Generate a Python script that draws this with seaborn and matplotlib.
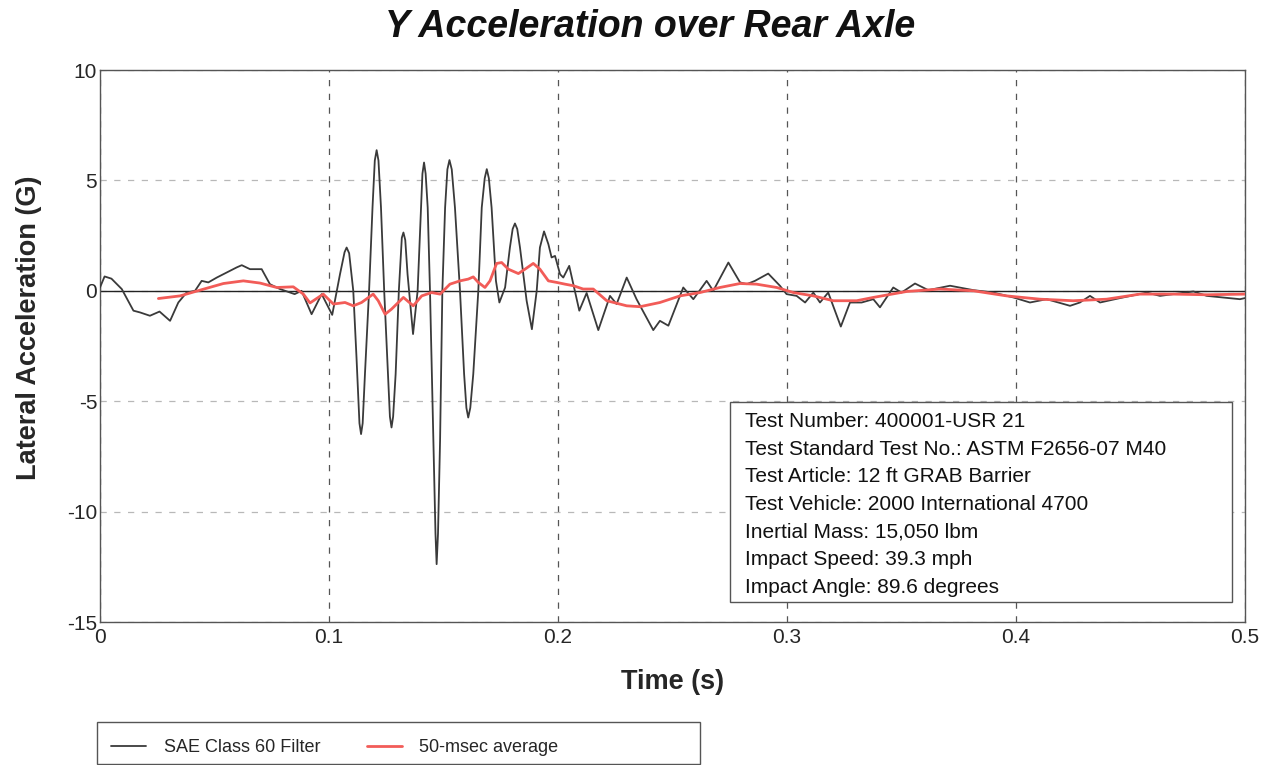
import numpy as np
import pandas as pd
import seaborn as sns
import matplotlib.pyplot as plt
from matplotlib.patches import Rectangle
from matplotlib.ticker import MultipleLocator

# SAE Class 60 filtered trace
filt_time = [0.000, 0.002, 0.005, 0.0095, 0.0146, 0.0175, 0.0218, 0.026, 0.0306, 0.0342,
             0.0378, 0.0415, 0.0444, 0.0473, 0.051, 0.0553, 0.0597, 0.0619, 0.0655, 0.0706,
             0.0742, 0.0786, 0.083, 0.085, 0.088, 0.0924, 0.0968, 0.1014, 0.1048, 0.1068,
             0.1077, 0.1088, 0.1106, 0.112, 0.1133, 0.114, 0.1147, 0.1157, 0.1175, 0.119,
             0.1200, 0.1208, 0.1216, 0.1227, 0.1241, 0.1259, 0.1266, 0.1273, 0.128, 0.1291,
             0.1305, 0.1318, 0.1325, 0.1333, 0.1343, 0.1367, 0.1387, 0.1402, 0.1408, 0.1415,
             0.1422, 0.1431, 0.1441, 0.1456, 0.1465, 0.147, 0.1476, 0.1485, 0.1495, 0.1507,
             0.1517, 0.1526, 0.1536, 0.155, 0.1572, 0.159, 0.1600, 0.1608, 0.1617, 0.163,
             0.1652, 0.1667, 0.1680, 0.1689, 0.1698, 0.171, 0.1729, 0.1744, 0.1769, 0.179,
             0.1802, 0.1812, 0.1822, 0.1834, 0.1863, 0.1886, 0.1907, 0.1921, 0.1939, 0.1958,
             0.1972, 0.1987, 0.2009, 0.2023, 0.2049, 0.2093, 0.2125, 0.2176, 0.2227, 0.2256,
             0.23, 0.2343, 0.2416, 0.2445, 0.2482, 0.2547, 0.2591, 0.2649, 0.2678, 0.2744,
             0.2795, 0.2824, 0.286, 0.2918, 0.2969, 0.2998, 0.3042, 0.3079, 0.3115, 0.3144,
             0.318, 0.3235, 0.3275, 0.3326, 0.3377, 0.3406, 0.3464, 0.35, 0.3559, 0.3617,
             0.3712, 0.3814, 0.3901, 0.3988, 0.4061, 0.4134, 0.4236, 0.4279, 0.4323, 0.4367,
             0.4454, 0.4571, 0.4629, 0.4775, 0.4833, 0.4978, 0.500]
filt_accel = [0.15, 0.65, 0.55, 0.08, -0.9, -0.98, -1.13, -0.94, -1.36, -0.53,
              -0.08, 0.0, 0.45, 0.38, 0.6, 0.83, 1.06, 1.16, 0.98, 0.98,
              0.3, 0.08, -0.08, -0.15, 0.0, -1.06, -0.15, -1.09, 0.75, 1.75,
              1.96, 1.7, 0.0, -3.0, -6.0, -6.49, -6.0, -3.77, 0.0, 3.77,
              5.9, 6.37, 5.9, 3.77, 0.0, -4.08, -5.7, -6.19, -5.7, -3.77,
              0.0, 2.4, 2.64, 2.3, 0.75, -1.96, 0.0, 3.77, 5.3, 5.81,
              5.3, 3.77, 0.0, -6.79, -11.0, -12.38, -11.0, -6.79, 0.0, 3.77,
              5.5, 5.92, 5.5, 3.77, 0.0, -3.77, -5.3, -5.74, -5.3, -3.77,
              0.0, 3.77, 5.1, 5.51, 5.1, 3.77, 0.45, -0.53, 0.15, 1.96,
              2.8, 3.05, 2.8, 1.96, -0.45, -1.74, 0.0, 1.96, 2.69, 2.11,
              1.51, 1.58, 0.75, 0.6, 1.13, -0.9, -0.1, -1.78, -0.23, -0.6,
              0.6, -0.38, -1.78, -1.36, -1.58, 0.15, -0.38, 0.45, 0.0, 1.28,
              0.38, 0.3, 0.45, 0.78, 0.23, -0.15, -0.23, -0.53, -0.08, -0.53,
              -0.08, -1.62, -0.53, -0.53, -0.38, -0.75, 0.15, -0.08, 0.33, 0.03,
              0.23, 0.03, -0.08, -0.3, -0.53, -0.38, -0.68, -0.53, -0.23, -0.53,
              -0.33, -0.08, -0.23, -0.03, -0.23, -0.38, -0.33]

# 50-msec moving average
avg_time = [0.0255, 0.035, 0.0437, 0.0539, 0.0626, 0.0699, 0.0772, 0.0844, 0.0888, 0.0917,
            0.0975, 0.1019, 0.107, 0.1106, 0.1142, 0.1193, 0.1215, 0.1245, 0.1273, 0.1325,
            0.1368, 0.1405, 0.1448, 0.1485, 0.1528, 0.1572, 0.1608, 0.163, 0.1652, 0.1681,
            0.1703, 0.1732, 0.1754, 0.1783, 0.1827, 0.1856, 0.1892, 0.1921, 0.1958, 0.1994,
            0.2031, 0.2067, 0.211, 0.2154, 0.2213, 0.23, 0.2358, 0.2445, 0.2533, 0.262,
            0.2707, 0.2795, 0.2867, 0.2955, 0.3028, 0.3115, 0.3202, 0.3304, 0.3377, 0.3523,
            0.3668, 0.3814, 0.3959, 0.4105, 0.425, 0.4396, 0.4541, 0.4687, 0.4833, 0.500]
avg_accel = [-0.35, -0.23, 0.03, 0.33, 0.45, 0.35, 0.15, 0.18, -0.15, -0.55,
             -0.15, -0.6, -0.53, -0.68, -0.53, -0.15, -0.45, -1.06, -0.83, -0.3,
             -0.68, -0.23, -0.08, -0.15, 0.3, 0.45, 0.53, 0.63, 0.38, 0.15,
             0.45, 1.24, 1.28, 0.98, 0.78, 0.98, 1.24, 0.98, 0.45, 0.38,
             0.3, 0.23, 0.08, 0.08, -0.45, -0.68, -0.72, -0.53, -0.23, -0.08,
             0.15, 0.33, 0.3, 0.15, -0.08, -0.23, -0.45, -0.45, -0.3, -0.03,
             0.08, 0.0, -0.23, -0.38, -0.45, -0.38, -0.15, -0.15, -0.18, -0.15]

x_ticks = [0.0, 0.1, 0.2, 0.3, 0.4, 0.5]
x_tick_labels = ['0', '0.1', '0.2', '0.3', '0.4', '0.5']
y_ticks = [10, 5, 0, -5, -10, -15]

info_lines = [
    "Test Number: 400001-USR 21",
    "Test Standard Test No.: ASTM F2656-07 M40",
    "Test Article: 12 ft GRAB Barrier",
    "Test Vehicle: 2000 International 4700",
    "Inertial Mass: 15,050 lbm",
    "Impact Speed: 39.3 mph",
    "Impact Angle: 89.6 degrees",
]

sns.set_theme(style='white')
plt.rcParams['font.family'] = ['Liberation Sans', 'DejaVu Sans']
plt.rcParams['axes.unicode_minus'] = False

filt_df = pd.DataFrame({'time': filt_time, 'accel': filt_accel})
avg_df = pd.DataFrame({'time': avg_time, 'accel': avg_accel})

fig = plt.figure(figsize=(12.75, 7.65), dpi=100)
ax = fig.add_axes([100 / 1275, 1 - 622 / 765, 1145 / 1275, 552 / 765])

ax.axhline(0, color='#222222', lw=1.0, zorder=1)
sns.lineplot(data=filt_df, x='time', y='accel', ax=ax, color='#3a3a3a', lw=1.3,
             sort=False, label='SAE Class 60 Filter', zorder=3)
sns.lineplot(data=avg_df, x='time', y='accel', ax=ax, color='#f25c58', lw=2.0,
             sort=False, label='50-msec average', zorder=4)

ax.set_xlim(0, 0.5)
ax.set_ylim(-15, 10)
ax.set_xticks(x_ticks)
ax.set_xticklabels(x_tick_labels)
ax.set_yticks(y_ticks)
ax.xaxis.set_minor_locator(MultipleLocator(0.02))
ax.yaxis.set_minor_locator(MultipleLocator(1))
ax.tick_params(which='major', direction='in', length=5, width=0.8, color='#444444',
               labelsize=15, pad=2)
ax.tick_params(which='minor', direction='in', length=3, width=0.6, color='#666666')
ax.tick_params(axis='x', which='major', pad=4)

ax.xaxis.grid(True, which='major', ls=(0, (5, 6)), color='#555555', lw=0.9)
ax.yaxis.grid(True, which='major', ls=(0, (5, 6)), color='#b8b8b8', lw=0.9)
for sp in ax.spines.values():
    sp.set_color('#555555')
    sp.set_linewidth(1.0)

ax.set_xlabel('Time (s)', fontsize=19.5, fontweight='bold', labelpad=16)
ax.set_ylabel('Lateral Acceleration (G)', fontsize=19.5, fontweight='bold')
ax.yaxis.set_label_coords(-0.0505, 0.533)
fig.text(650 / 1275, 1 - 27 / 765, 'Y Acceleration over Rear Axle', fontsize=27,
         fontweight='bold', fontstyle='italic', ha='center', va='center', color='#111111')

# info box
ax.add_patch(Rectangle((0.5502, 0.0362), 0.4384, 0.3623, transform=ax.transAxes,
                       fc='white', ec='#555555', lw=1.0, zorder=6))
ax.text(0.5633, 0.3805, "\n".join(info_lines), transform=ax.transAxes, fontsize=15,
        va='top', ha='left', linespacing=1.58, color='#111111', zorder=7)

handles, labels = ax.get_legend_handles_labels()
ax.get_legend().remove()
fig.add_artist(Rectangle((97 / 1275, 1 / 765), 603 / 1275, 42 / 765, transform=fig.transFigure,
                         fill=False, ec='#555555', lw=1.0))
fig.legend(handles, labels, loc='center left', bbox_to_anchor=(95 / 1275, 1 - 748 / 765),
           ncol=2, frameon=False, fontsize=13, handlelength=1.95, columnspacing=2.6,
           handletextpad=0.95)

fig.savefig('out.png', dpi=100)
